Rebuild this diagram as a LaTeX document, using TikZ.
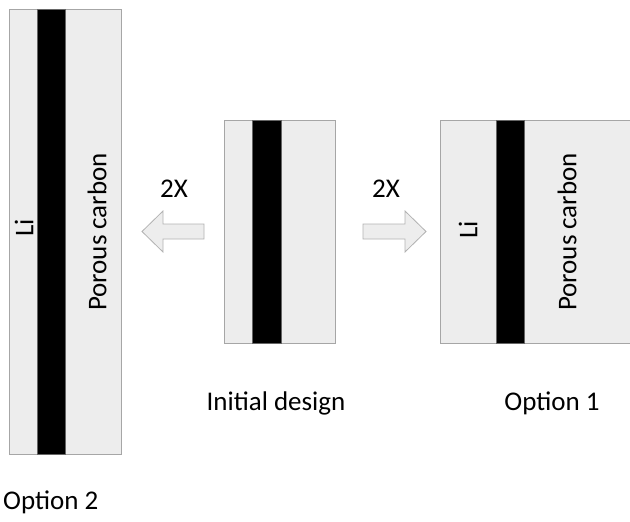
\documentclass[tikz,border=0pt]{standalone}
\usepackage{fontspec}
\setmainfont{Carlito}
\begin{document}
\begin{tikzpicture}[x=1pt,y=-1pt,
  cell/.style={draw=black!35,fill=black!7,line width=0.8pt},
  sep/.style={fill=black,draw=black!60,line width=0.5pt},
  blockarrow/.style={draw=black!30,fill=black!7,line width=0.8pt,line join=miter},
  lbl/.style={font=\fontsize{27}{32}\selectfont,inner sep=0pt},
  vlbl/.style={lbl,rotate=90}]
\useasboundingbox (0,0) rectangle (630,522);

% Option 2: doubled height
\draw[cell] (9,9) rectangle (121,454);
\draw[sep] (37,9) rectangle (65,454);
\node[vlbl] (li2) at (24,228) {Li};
\node[vlbl] (pc2) at (97,232) {Porous carbon};
\node[lbl,anchor=base west] (opt2) at (3,509) {Option 2};

% Initial design
\draw[cell] (224,120) rectangle (335,343);
\draw[sep] (252,120) rectangle (281,343);
\node[lbl,anchor=base] (init) at (276,410) {Initial design};

% Option 1: doubled width
\draw[cell] (440,120) rectangle (640,343);
\draw[sep] (496,120) rectangle (524,343);
\node[vlbl] (li1) at (468,230) {Li};
\node[vlbl] (pc1) at (567,232) {Porous carbon};
\node[lbl,anchor=base] (opt1) at (552,410) {Option 1};

% block arrows
\draw[blockarrow] (204,224) -- (163,224) -- (163,211) -- (142,231.5)
  -- (163,252) -- (163,239) -- (204,239) -- cycle;
\node[lbl] (x2l) at (174,189) {2X};
\draw[blockarrow] (363,224) -- (405,224) -- (405,211) -- (426,231.5)
  -- (405,252) -- (405,239) -- (363,239) -- cycle;
\node[lbl] (x2r) at (386,189) {2X};
\end{tikzpicture}
\end{document}
